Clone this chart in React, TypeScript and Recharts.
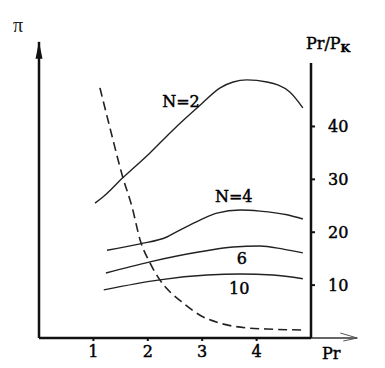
import React from "react";
import {
  LineChart,
  Line,
  XAxis,
  YAxis,
  ReferenceLine,
  ReferenceDot,
} from "recharts";

// Pr along the bottom axis
const prTicks = [1, 2, 3, 4];
// Pr/Pk ticks on the right axis
const ratioTicks = [10, 20, 30, 40];

// solid curves, π vs Pr for each N
const curveN2 = [
  { x: 1.03, y: 25.5 },
  { x: 1.18, y: 26.7 },
  { x: 1.54, y: 30.3 },
  { x: 2.04, y: 35.0 },
  { x: 2.46, y: 39.3 },
  { x: 2.96, y: 44.0 },
  { x: 3.33, y: 47.3 },
  { x: 3.57, y: 48.4 },
  { x: 3.82, y: 48.8 },
  { x: 4.19, y: 48.4 },
  { x: 4.61, y: 46.5 },
  { x: 4.85, y: 43.5 },
];
const curveN4 = [
  { x: 1.25, y: 16.6 },
  { x: 1.86, y: 17.8 },
  { x: 2.35, y: 19.1 },
  { x: 2.59, y: 20.4 },
  { x: 2.96, y: 22.3 },
  { x: 3.27, y: 23.6 },
  { x: 3.7, y: 24.2 },
  { x: 4.06, y: 24.0 },
  { x: 4.56, y: 23.3 },
  { x: 4.85, y: 22.5 },
];
const curveN6 = [
  { x: 1.23, y: 12.3 },
  { x: 2.04, y: 14.4 },
  { x: 2.96, y: 16.3 },
  { x: 3.57, y: 17.2 },
  { x: 4.06, y: 17.4 },
  { x: 4.49, y: 16.8 },
  { x: 4.85, y: 16.1 },
];
const curveN10 = [
  { x: 1.19, y: 9.1 },
  { x: 2.22, y: 11.0 },
  { x: 3.09, y: 11.9 },
  { x: 3.7, y: 12.1 },
  { x: 4.3, y: 11.9 },
  { x: 4.85, y: 11.2 },
];
// dashed curve, Pr/Pk vs Pr
const curveRatio = [
  { x: 1.12, y: 47.3 },
  { x: 1.31, y: 39.5 },
  { x: 1.54, y: 30.4 },
  { x: 1.71, y: 24.8 },
  { x: 1.86, y: 18.5 },
  { x: 2.04, y: 14.2 },
  { x: 2.22, y: 11.0 },
  { x: 2.41, y: 8.7 },
  { x: 2.65, y: 6.6 },
  { x: 2.96, y: 4.3 },
  { x: 3.33, y: 2.8 },
  { x: 3.82, y: 1.9 },
  { x: 4.19, y: 1.7 },
  { x: 4.85, y: 1.5 },
];

// curve captions
const captions = [
  { text: "N=2", x: 2.61, y: 44.8 },
  { text: "N=4", x: 3.58, y: 26.7 },
  { text: "6", x: 3.73, y: 15.1 },
  { text: "10", x: 3.68, y: 9.3 },
];

const font = "'DejaVu Serif', 'Liberation Serif', serif";
const ink = "#111";

const UpArrow = (props: any) => {
  const { cx, cy } = props;
  return (
    <polygon
      points={`${cx},${cy} ${cx - 3.5},${cy + 17} ${cx + 3.5},${cy + 17}`}
      fill={ink}
    />
  );
};

const RightArrow = (props: any) => {
  const { cx, cy } = props;
  return (
    <path
      d={`M${cx - 17},${cy - 5} L${cx},${cy} L${cx - 14},${cy + 3}`}
      stroke="#555"
      strokeWidth={1}
      fill="none"
    />
  );
};

// slight stroke to get the heavy scanned-print look
const textStyle = {
  fill: "#000",
  stroke: "#000",
  strokeWidth: 0.45,
  fontSize: 16,
  fontFamily: font,
};

export default function App() {
  const lines = [curveN2, curveN4, curveN6, curveN10];
  return (
    <div style={{ position: "absolute", left: 0, top: 0, background: "#fff" }}>
      <LineChart
        width={385}
        height={368}
        margin={{ top: 63, right: 0, bottom: 0, left: 0 }}
      >
        <XAxis
          dataKey="x"
          type="number"
          domain={[0, 5]}
          ticks={prTicks}
          allowDataOverflow
          height={30}
          axisLine={{ stroke: ink, strokeWidth: 2.5 }}
          tickLine={{ stroke: ink, strokeWidth: 2 }}
          tickSize={3}
          tickMargin={5}
          tick={textStyle}
        />
        <YAxis
          yAxisId="pi"
          type="number"
          domain={[0, 52]}
          allowDataOverflow
          width={39}
          tick={false}
          tickLine={false}
          axisLine={{ stroke: ink, strokeWidth: 2.5 }}
        />
        <YAxis
          yAxisId="ratio"
          orientation="right"
          type="number"
          domain={[0, 52]}
          allowDataOverflow
          ticks={ratioTicks}
          width={74}
          axisLine={{ stroke: ink, strokeWidth: 2.5 }}
          tickLine={{ stroke: ink, strokeWidth: 2 }}
          tickSize={4}
          tickMargin={13}
          tick={textStyle}
        />

        {/* axis extensions beyond the plot box */}
        <ReferenceLine
          yAxisId="pi"
          segment={[
            { x: 0, y: 52 },
            { x: 0, y: 56 },
          ]}
          stroke={ink}
          strokeWidth={2.5}
          ifOverflow="visible"
        />
        <ReferenceLine
          yAxisId="pi"
          segment={[
            { x: 5, y: 0 },
            { x: 5.85, y: 0 },
          ]}
          stroke="#333"
          strokeWidth={1.5}
          ifOverflow="visible"
        />
        <ReferenceDot
          yAxisId="pi"
          x={0}
          y={56}
          r={0}
          shape={UpArrow}
          ifOverflow="visible"
        />
        <ReferenceDot
          yAxisId="pi"
          x={5.85}
          y={0}
          r={0}
          shape={RightArrow}
          ifOverflow="visible"
        />

        {lines.map((d, i) => (
          <Line
            key={i}
            yAxisId="pi"
            data={d}
            dataKey="y"
            type="monotone"
            stroke="#222"
            strokeWidth={1.4}
            dot={false}
            isAnimationActive={false}
          />
        ))}
        <Line
          yAxisId="ratio"
          data={curveRatio}
          dataKey="y"
          type="monotone"
          stroke="#222"
          strokeWidth={1.6}
          strokeDasharray="9 5"
          dot={false}
          isAnimationActive={false}
        />

        {captions.map((c) => (
          <ReferenceDot
            key={c.text}
            yAxisId="pi"
            x={c.x}
            y={c.y}
            r={0}
            label={{ value: c.text, position: "center", ...textStyle }}
          />
        ))}
      </LineChart>
      <div
        style={{
          position: "absolute",
          left: 13,
          top: 14,
          fontFamily: "'Liberation Serif', serif",
          fontSize: 20,
          color: "#222",
        }}
      >
        π
      </div>
      <div
        style={{
          position: "absolute",
          left: 306,
          top: 34,
          fontFamily: font,
          fontSize: 16,
          color: "#000",
          whiteSpace: "nowrap",
          WebkitTextStroke: "0.45px #000",
        }}
      >
        Pr/P<sub style={{ fontSize: 11, fontWeight: "bold", verticalAlign: -3 }}>K</sub>
      </div>
      <div
        style={{
          position: "absolute",
          left: 322,
          top: 344,
          fontFamily: font,
          fontSize: 16,
          color: "#000",
          WebkitTextStroke: "0.45px #000",
        }}
      >
        Pr
      </div>
    </div>
  );
}
